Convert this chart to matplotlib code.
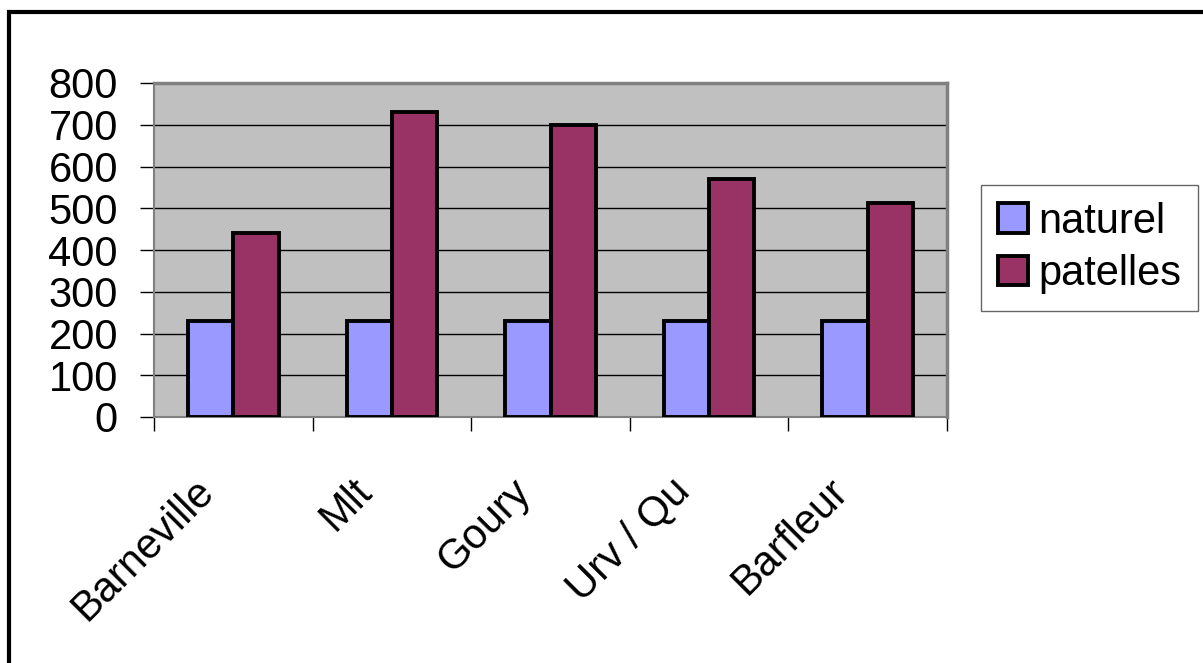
import numpy as np
import matplotlib.pyplot as plt
from matplotlib.patches import Rectangle
from matplotlib.transforms import ScaledTranslation

# Data
sites = ["Barneville", "Mlt", "Goury", "Urv / Qu", "Barfleur"]
naturel = [230, 230, 230, 230, 230]
patelles = [440, 730, 700, 570, 512]
yticks = [0, 100, 200, 300, 400, 500, 600, 700, 800]

plt.rcParams['font.family'] = ['Liberation Sans', 'DejaVu Sans']

fig = plt.figure(figsize=(12.03, 6.63), dpi=100)
ax = fig.add_axes([154 / 1203, 1 - 417 / 663, (947 - 154) / 1203, (417 - 83) / 663])
ax.set_facecolor("#C0C0C0")

x = np.arange(len(sites))
w = 0.285
ax.bar(x - w / 2, naturel, w, color="#9999FF", edgecolor="black",
       linewidth=2.8, label="naturel", zorder=3)
ax.bar(x + w / 2, patelles, w, color="#993366", edgecolor="black",
       linewidth=2.8, label="patelles", zorder=3)

ax.set_xlim(-0.5, len(sites) - 0.5)
ax.set_ylim(0, 800)
ax.set_yticks(yticks)
ax.set_yticklabels([str(v) for v in yticks], fontsize=30)
ax.yaxis.grid(True, color="black", linewidth=1)
ax.set_axisbelow(True)

# tick marks between categories, names drawn as rotated text under each group
ax.set_xticks(np.arange(-0.5, len(sites)))
ax.set_xticklabels([])
ax.tick_params(axis="x", length=10, width=1, color="black")
ax.tick_params(axis="y", length=10, width=1, color="black", pad=16)
lab_tr = ax.get_xaxis_transform() + ScaledTranslation(-0.40, -0.54, fig.dpi_scale_trans)
for xi, name in zip(x, sites):
    ax.text(xi, 0, name, transform=lab_tr, fontsize=30, rotation=45,
            ha="right", va="top", rotation_mode="anchor")

for s in ["top", "right"]:
    ax.spines[s].set_color("#808080")
    ax.spines[s].set_linewidth(2.5)
for s in ["left", "bottom"]:
    ax.spines[s].set_color("#808080")
    ax.spines[s].set_linewidth(1.5)

leg = fig.legend(loc="upper left", bbox_to_anchor=(981 / 1203, 1 - 185 / 663),
                 fontsize=30, frameon=True, fancybox=False, borderpad=0.4,
                 handlelength=0.72, handleheight=0.72, handletextpad=0.25,
                 labelspacing=0.3, borderaxespad=0)
leg.get_frame().set_edgecolor("#404040")
leg.get_frame().set_linewidth(1)

# outer chart frame
fig.patches.append(Rectangle((9 / 1203, -0.1), 1.2, 1 - 12 / 663 + 0.1,
                             transform=fig.transFigure, fill=False,
                             edgecolor="black", linewidth=3))

fig.savefig("out.png", dpi=100)
